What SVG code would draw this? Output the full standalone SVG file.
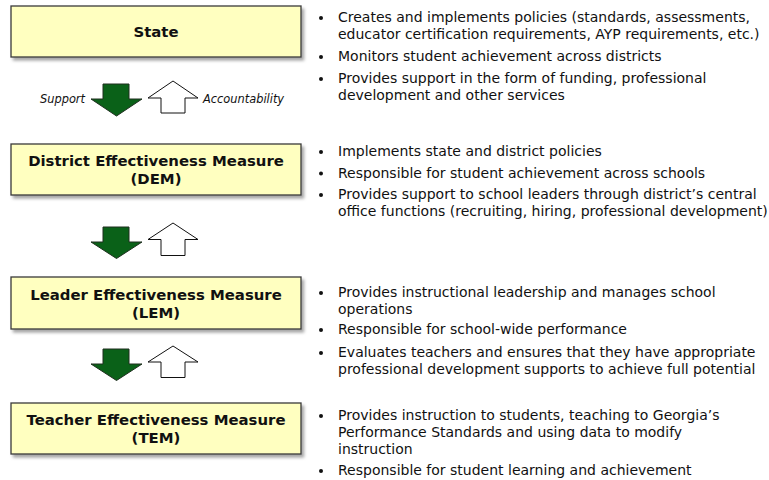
<svg xmlns="http://www.w3.org/2000/svg" width="769" height="480" viewBox="0 0 769 480">
<defs>
<filter id="sh" x="-10%" y="-20%" width="125%" height="160%">
<feDropShadow dx="2.5" dy="3" stdDeviation="1.5" flood-color="#000" flood-opacity="0.35"/>
</filter>
<style>
.box{fill:#FFFFC0;stroke:#3a3a3a;stroke-width:1.3;filter:url(#sh)}
.title{font-family:"DejaVu Sans",Verdana,sans-serif;font-weight:bold;font-size:14.9px;fill:#111;text-anchor:middle}
.body{font-family:"DejaVu Sans",Verdana,sans-serif;font-size:14px;fill:#111}
.lab{font-family:"DejaVu Sans",Verdana,sans-serif;font-style:italic;font-size:11.4px;fill:#111}
.dn{fill:#0A6118;stroke:#1f2f1f;stroke-width:1}
.up{fill:#fff;stroke:#111;stroke-width:1}
.dot{fill:#111}
</style>
</defs>
<rect width="769" height="480" fill="#fff"/>

<g id="node-state">
<rect class="box" x="11" y="6" width="290" height="51"/>
<text class="title" x="156" y="37">State</text>
</g>
<g id="node-dem">
<rect class="box" x="11" y="144" width="290" height="51"/>
<text class="title" x="156" y="166">District Effectiveness Measure</text>
<text class="title" x="156" y="184">(DEM)</text>
</g>
<g id="node-lem">
<rect class="box" x="11" y="277" width="290" height="52"/>
<text class="title" x="156" y="300">Leader Effectiveness Measure</text>
<text class="title" x="156" y="318">(LEM)</text>
</g>
<g id="node-tem">
<rect class="box" x="11" y="403" width="290" height="51"/>
<text class="title" x="156" y="425">Teacher Effectiveness Measure</text>
<text class="title" x="156" y="443">(TEM)</text>
</g>

<g id="connectors">
<polygon class="dn" points="103,84 129,84 129,99 142,99 116.5,116 91,99 103,99"/>
<polygon class="up" points="173,81 198,98 185,98 185,113 161,113 161,98 148,98"/>
<polygon class="dn" points="103,227 129,227 129,242 142,242 116.5,258.5 91,242 103,242"/>
<polygon class="up" points="173,223 198,239.5 185,239.5 185,255.5 161,255.5 161,239.5 148,239.5"/>
<polygon class="dn" points="103,349 129,349 129,364 142,364 116.5,380.5 91,364 103,364"/>
<polygon class="up" points="173,346 198,362 185,362 185,377.5 161,377.5 161,362 148,362"/>
<text class="lab" x="85" y="103" text-anchor="end">Support</text>
<text class="lab" x="203" y="103">Accountability</text>
</g>

<g id="notes-state">
<circle class="dot" cx="321" cy="18" r="2"/>
<text class="body" x="338" y="22">Creates and implements policies (standards, assessments,</text>
<text class="body" x="338" y="39">educator certification requirements, AYP requirements, etc.)</text>
<circle class="dot" cx="321" cy="57" r="2"/>
<text class="body" x="338" y="61">Monitors student achievement across districts</text>
<circle class="dot" cx="321" cy="79" r="2"/>
<text class="body" x="338" y="83">Provides support in the form of funding, professional</text>
<text class="body" x="338" y="100">development and other services</text>
</g>
<g id="notes-dem">
<circle class="dot" cx="321" cy="152" r="2"/>
<text class="body" x="338" y="156">Implements state and district policies</text>
<circle class="dot" cx="321" cy="173.5" r="2"/>
<text class="body" x="338" y="177.5">Responsible for student achievement across schools</text>
<circle class="dot" cx="321" cy="195" r="2"/>
<text class="body" x="338" y="199">Provides support to school leaders through district’s central</text>
<text class="body" x="338" y="216">office functions (recruiting, hiring, professional development)</text>
</g>
<g id="notes-lem">
<circle class="dot" cx="321" cy="293" r="2"/>
<text class="body" x="338" y="297">Provides instructional leadership and manages school</text>
<text class="body" x="338" y="314">operations</text>
<circle class="dot" cx="321" cy="330" r="2"/>
<text class="body" x="338" y="334">Responsible for school-wide performance</text>
<circle class="dot" cx="321" cy="353" r="2"/>
<text class="body" x="338" y="357">Evaluates teachers and ensures that they have appropriate</text>
<text class="body" x="338" y="374">professional development supports to achieve full potential</text>
</g>
<g id="notes-tem">
<circle class="dot" cx="321" cy="416" r="2"/>
<text class="body" x="338" y="420">Provides instruction to students, teaching to Georgia’s</text>
<text class="body" x="338" y="437">Performance Standards and using data to modify</text>
<text class="body" x="338" y="454">instruction</text>
<circle class="dot" cx="321" cy="471" r="2"/>
<text class="body" x="338" y="475">Responsible for student learning and achievement</text>
</g>
</svg>
